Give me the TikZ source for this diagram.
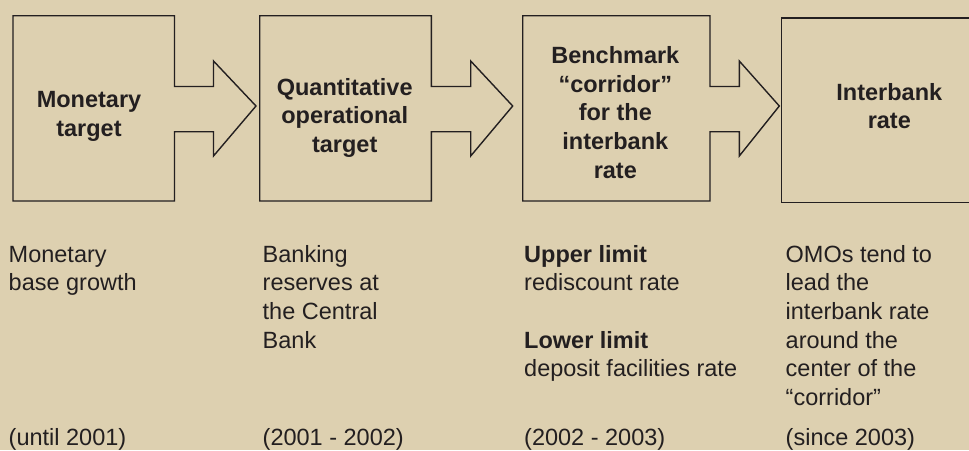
\documentclass[tikz,border=0pt]{standalone}
\usepackage{fontspec}
\setmainfont{Liberation Sans}
\definecolor{bg}{RGB}{221,208,176}
\definecolor{ink}{RGB}{35,31,32}
\begin{document}
\begin{tikzpicture}[x=1pt,y=-1pt,
  outline/.style={draw=ink,line width=1.4pt,line join=miter},
  boxtext/.style={anchor=base,inner sep=0pt,text=ink,font=\fontsize{23.5}{28.7}\selectfont\bfseries},
  coltext/.style={anchor=base west,inner sep=0pt,text=ink,font=\fontsize{23.5}{28.7}\selectfont}]
\useasboundingbox (0,0) rectangle (969,450);
\fill[bg] (0,0) rectangle (969,450);
\clip (0,0) rectangle (969,450);
% box 1 with arrow
\draw[outline] (13,15.7) -- (174.5,15.7) -- (174.5,86.5) -- (213.5,86.5) -- (213.5,61) -- (256,106)
  -- (213.5,156) -- (213.5,131.7) -- (174.5,131.7) -- (174.5,201) -- (13,201) -- cycle;
% box 2 with arrow
\draw[outline] (259.7,15.7) -- (431.3,15.7) -- (431.3,86.5) -- (470.7,86.5) -- (470.7,61) -- (512.7,106)
  -- (470.7,156) -- (470.7,131.7) -- (431.3,131.7) -- (431.3,201) -- (259.7,201) -- cycle;
% box 3 with arrow
\draw[outline] (522.7,15.7) -- (710,15.7) -- (710,86.5) -- (739.3,86.5) -- (739.3,61) -- (779.3,106)
  -- (739.3,156) -- (739.3,131.7) -- (710,131.7) -- (710,201) -- (522.7,201) -- cycle;
% box 4
\draw[outline] (781.7,18) rectangle (1000,202.5);
% box labels
\node[boxtext] (t1) at (89,107.3) {\begin{tabular}[t]{@{}c@{}}Monetary\\target\end{tabular}};
\node[boxtext] (t2) at (344.7,95) {\begin{tabular}[t]{@{}c@{}}Quantitative\\operational\\target\end{tabular}};
\node[boxtext] (t3) at (615.3,63.3) {\begin{tabular}[t]{@{}c@{}}Benchmark\\“corridor”\\for the\\interbank\\rate\end{tabular}};
\node[boxtext] (t4) at (889.3,100) {\begin{tabular}[t]{@{}c@{}}Interbank\\rate\end{tabular}};
% column texts
\node[coltext] (c1) at (8.5,262) {\begin{tabular}[t]{@{}l@{}}Monetary\\base growth\end{tabular}};
\node[coltext] (c2) at (262.5,262) {\begin{tabular}[t]{@{}l@{}}Banking\\reserves at\\the Central\\Bank\end{tabular}};
\node[coltext] (c3) at (524,262) {\begin{tabular}[t]{@{}l@{}}\textbf{Upper limit}\\rediscount rate\\[28.7pt]\textbf{Lower limit}\\deposit facilities rate\end{tabular}};
\node[coltext] (c4) at (785.5,262) {\begin{tabular}[t]{@{}l@{}}OMOs tend to\\lead the\\interbank rate\\around the\\center of the\\“corridor”\end{tabular}};
% periods
\node[coltext] (p1) at (8.5,445.5) {(until 2001)};
\node[coltext] (p2) at (262.5,445.5) {(2001 - 2002)};
\node[coltext] (p3) at (524,445.5) {(2002 - 2003)};
\node[coltext] (p4) at (785.5,445.5) {(since 2003)};
\end{tikzpicture}
\end{document}
